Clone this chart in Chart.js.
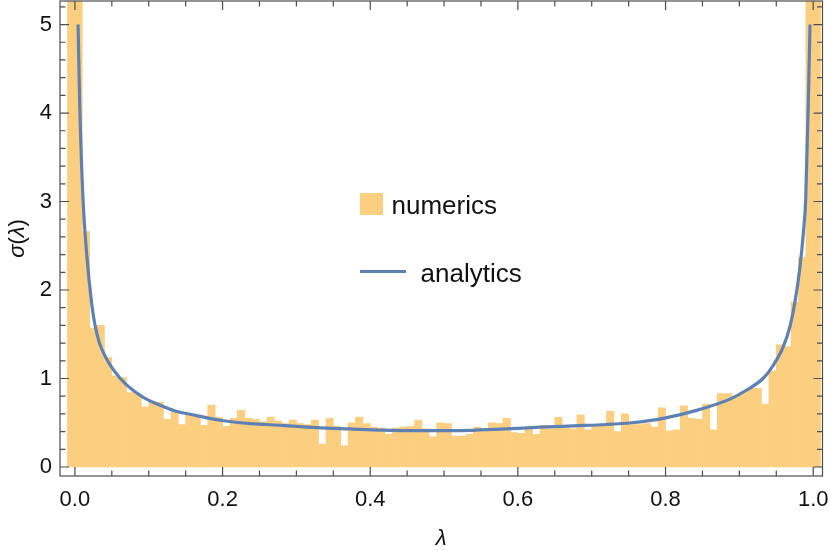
<!DOCTYPE html>
<html lang="en">
<head>
  <meta charset="UTF-8" />
  <title>σ(λ) – numerics vs analytics</title>
  <script src="https://cdn.jsdelivr.net/npm/chart.js"></script>
  <style>
    body { margin: 0; background: #fff; }
    canvas { display: block; }
  </style>
</head>
<body>
<canvas id="sigmaChart" width="830" height="551"></canvas>

<script>
// histogram: bins of width 0.01, the first one starts at -0.01
const binStart = -0.01;
const binWidth = 0.01;
const numerics = [
  6.0, 6.0, 2.66, 1.57, 1.60, 1.24, 1.03, 1.01, 0.84, 0.82,
  0.68, 0.74, 0.73, 0.54, 0.62, 0.48, 0.60, 0.58, 0.47, 0.70,
  0.56, 0.46, 0.55, 0.64, 0.55, 0.54, 0.51, 0.565, 0.52, 0.49,
  0.53, 0.49, 0.48, 0.53, 0.26, 0.55, 0.46, 0.24, 0.50, 0.565,
  0.49, 0.45, 0.44, 0.37, 0.44, 0.45, 0.46, 0.53, 0.43, 0.34,
  0.50, 0.49, 0.35, 0.35, 0.37, 0.45, 0.42, 0.50, 0.49, 0.55,
  0.39, 0.38, 0.45, 0.37, 0.47, 0.43, 0.56, 0.44, 0.43, 0.59,
  0.42, 0.47, 0.48, 0.63, 0.40, 0.60, 0.48, 0.48, 0.49, 0.45,
  0.67, 0.41, 0.42, 0.69, 0.55, 0.54, 0.71, 0.42, 0.83, 0.83,
  0.80, 0.85, 0.89, 0.89, 0.71, 1.085, 1.38, 1.36, 1.86, 2.37,
  6.0, 6.0
];

// analytic curve, points
const curveLambda = [0.0043, 0.0065, 0.011, 0.016, 0.0221, 0.0266, 0.0333, 0.0424, 0.0537, 0.0695,
  0.092, 0.1147, 0.137, 0.159, 0.182, 0.204, 0.238, 0.281, 0.327, 0.372,
  0.417, 0.462, 0.500, 0.539, 0.584, 0.630, 0.675, 0.720, 0.754, 0.797,
  0.842, 0.888, 0.910, 0.932, 0.946, 0.9595, 0.9686, 0.975, 0.9821, 0.9866,
  0.9898, 0.9935, 0.9957];
const curveSigma = [5.00, 4.10, 3.02, 2.40, 1.89, 1.63, 1.40, 1.23, 1.08, 0.93,
  0.79, 0.70, 0.63, 0.59, 0.55, 0.52, 0.49, 0.47, 0.445, 0.43,
  0.416, 0.41, 0.41, 0.415, 0.43, 0.45, 0.465, 0.48, 0.50, 0.55,
  0.64, 0.77, 0.87, 1.00, 1.15, 1.36, 1.59, 1.85, 2.26, 2.64,
  3.02, 4.15, 5.00];

const xTicks = [0, 0.2, 0.4, 0.6, 0.8, 1.0];
const xMinorTicks = [0.05, 0.1, 0.15, 0.25, 0.3, 0.35, 0.45, 0.5, 0.55, 0.65, 0.7, 0.75, 0.85, 0.9, 0.95];
const yTicks = [0, 1, 2, 3, 4, 5];
const yMinorTicks = [0.2, 0.4, 0.6, 0.8, 1.2, 1.4, 1.6, 1.8, 2.2, 2.4, 2.6, 2.8,
  3.2, 3.4, 3.6, 3.8, 4.2, 4.4, 4.6, 4.8, 5.2];

const barColor = '#fccf80';
const lineColor = '#5e81b5';
const frameColor = '#4d4d4d';
const textColor = '#111';
const fontFamily = '"Liberation Sans", Arial, sans-serif';

// frame with inward ticks on all four sides, legend and axis titles
const decorPlugin = {
  id: 'decor',
  afterDraw(chart) {
    const { ctx, chartArea: a } = chart;
    const x = chart.scales.x, y = chart.scales.y;
    ctx.save();
    ctx.strokeStyle = frameColor;
    ctx.lineWidth = 1.2;
    ctx.strokeRect(a.left, a.top, a.right - a.left, a.bottom - a.top);

    ctx.beginPath();
    const xt = (v, len) => {
      const p = x.getPixelForValue(v);
      ctx.moveTo(p, a.bottom); ctx.lineTo(p, a.bottom - len);
      ctx.moveTo(p, a.top); ctx.lineTo(p, a.top + len);
    };
    const yt = (v, len) => {
      const p = y.getPixelForValue(v);
      ctx.moveTo(a.left, p); ctx.lineTo(a.left + len, p);
      ctx.moveTo(a.right, p); ctx.lineTo(a.right - len, p);
    };
    xTicks.forEach(v => xt(v, 9));
    xMinorTicks.forEach(v => xt(v, 5.5));
    yTicks.forEach(v => yt(v, 9));
    yMinorTicks.forEach(v => yt(v, 5.5));
    ctx.stroke();

    // legend
    ctx.fillStyle = barColor;
    ctx.fillRect(360, 193, 23, 22);
    ctx.strokeStyle = lineColor;
    ctx.lineWidth = 3;
    ctx.beginPath();
    ctx.moveTo(360, 271.5); ctx.lineTo(406, 271.5);
    ctx.stroke();
    ctx.fillStyle = textColor;
    ctx.font = '26px ' + fontFamily;
    ctx.textBaseline = 'alphabetic';
    ctx.textAlign = 'left';
    ctx.fillText('numerics', 391.5, 213.5);
    ctx.fillText('analytics', 420.5, 281.5);

    // axis titles
    const italic = 'italic 22px ' + fontFamily;
    const upright = '22px ' + fontFamily;
    ctx.font = italic;
    ctx.textAlign = 'center';
    ctx.fillText('λ', (a.left + a.right) / 2, 545);

    const parts = [['σ', italic], ['(', upright], ['λ', italic], [')', upright]];
    let total = 0;
    parts.forEach(p => { ctx.font = p[1]; total += ctx.measureText(p[0]).width; });
    ctx.translate(24, (a.top + a.bottom) / 2);
    ctx.rotate(-Math.PI / 2);
    ctx.textAlign = 'left';
    let cx = -total / 2;
    parts.forEach(p => {
      ctx.font = p[1];
      ctx.fillText(p[0], cx, 0);
      cx += ctx.measureText(p[0]).width;
    });
    ctx.restore();
  }
};

const ctx = document.getElementById('sigmaChart').getContext('2d');

new Chart(ctx, {
  type: 'bar',
  data: {
    datasets: [
      {
        type: 'line',
        label: 'analytics',
        data: curveLambda.map((l, i) => ({ x: l, y: curveSigma[i] })),
        borderColor: lineColor,
        borderWidth: 3.2,
        pointRadius: 0,
        cubicInterpolationMode: 'monotone',
        fill: false,
        order: 0
      },
      {
        type: 'bar',
        label: 'numerics',
        data: numerics.map((v, i) => ({ x: binStart + binWidth * (i + 0.5), y: v })),
        backgroundColor: barColor,
        borderWidth: 0,
        barPercentage: 1,
        categoryPercentage: 1,
        order: 1
      }
    ]
  },
  options: {
    responsive: false,
    animation: false,
    devicePixelRatio: 1,
    layout: { padding: { left: 0, right: 7.5, top: 1, bottom: 0 } },
    plugins: { legend: { display: false }, tooltip: { enabled: false } },
    scales: {
      x: {
        type: 'linear',
        min: -0.0202,
        max: 1.0126,
        offset: false,
        grid: { display: false, drawTicks: false },
        border: { display: false },
        afterBuildTicks: s => { s.ticks = xTicks.map(v => ({ value: v })); },
        afterFit: s => { s.height = 75; s.paddingLeft = 0; s.paddingRight = 0; },
        ticks: {
          padding: 11,
          maxRotation: 0,
          autoSkip: false,
          color: textColor,
          font: { family: fontFamily, size: 22 },
          callback: v => Number(v).toFixed(1)
        }
      },
      y: {
        type: 'linear',
        min: -0.1017,
        max: 5.266,
        grid: { display: false, drawTicks: false },
        border: { display: false },
        afterBuildTicks: s => { s.ticks = yTicks.map(v => ({ value: v })); },
        afterFit: s => { s.width = 60; s.paddingTop = 0; s.paddingBottom = 0; },
        ticks: {
          padding: 8,
          color: textColor,
          font: { family: fontFamily, size: 22 },
          callback: v => String(v)
        }
      }
    }
  },
  plugins: [decorPlugin]
});
</script>
</body>
</html>
